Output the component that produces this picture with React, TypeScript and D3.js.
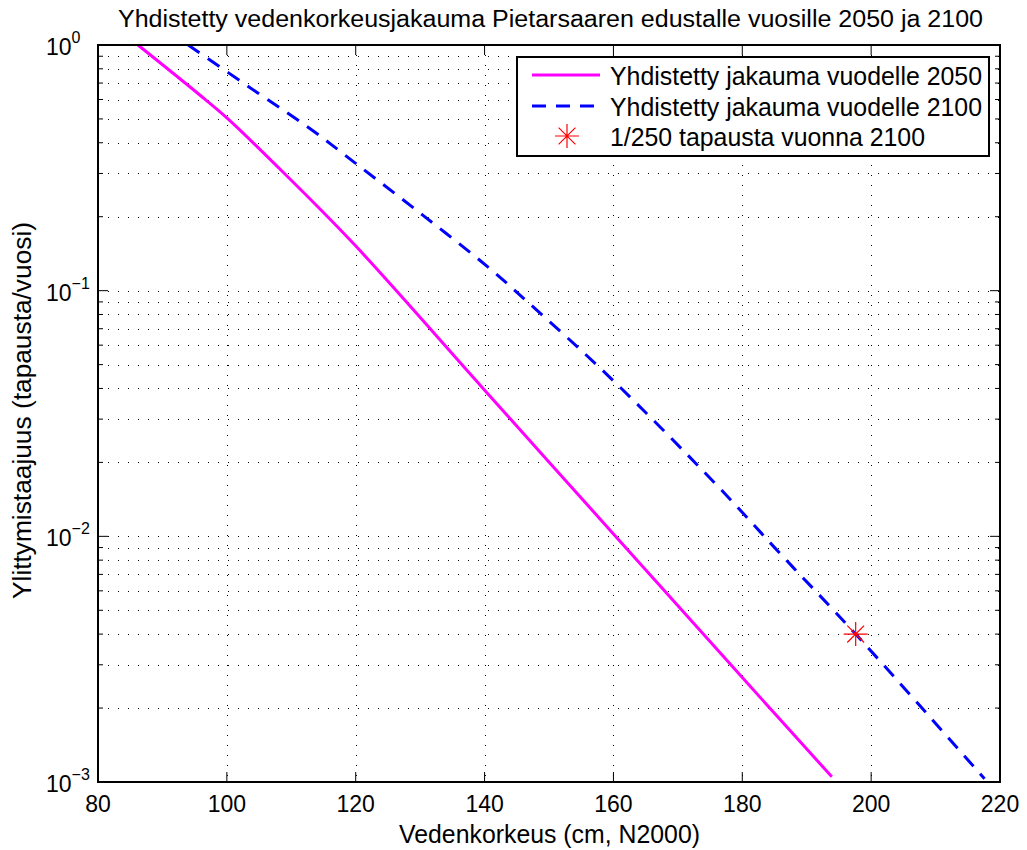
import React from "react";
import * as d3 from "d3";

const TITLE = "Yhdistetty vedenkorkeusjakauma Pietarsaaren edustalle vuosille 2050 ja 2100";
const X_LABEL = "Vedenkorkeus (cm, N2000)";
const Y_LABEL = "Ylittymistaajuus (tapausta/vuosi)";

const x2050 = [86.2, 95.8, 100.0, 108.7, 119.9, 139.7, 159.9, 179.9, 193.9];
const y2050 = [1.0, 0.626, 0.505, 0.304, 0.153, 0.0402, 0.0103, 0.00268, 0.00105];

const x2100 = [94.0, 104.8, 113.2, 120.3, 130.4, 140.5, 146.7, 159.4, 176.0, 185.8, 197.6, 217.6];
const y2100 = [1.0, 0.638, 0.451, 0.325, 0.203, 0.125, 0.0899, 0.0445, 0.0162, 0.00855, 0.004, 0.00103];

const eventX = [197.6];
const eventY = [0.004];

const xTicks = [80, 100, 120, 140, 160, 180, 200, 220];
const yDecades = [-3, -2, -1, 0];
const legendLabels = [
  "Yhdistetty jakauma vuodelle 2050",
  "Yhdistetty jakauma vuodelle 2100",
  "1/250 tapausta vuonna 2100",
];

const FONT = "'Liberation Sans', Arial, Helvetica, sans-serif";

export default function App() {
  const L = 98, R = 1000, T = 45, B = 782;
  const x = d3.scaleLinear().domain([80, 220]).range([L, R]);
  const y = d3.scaleLog().domain([1e-3, 1]).range([B, T]);

  const minors: number[] = [];
  for (let d = -3; d < 0; d++) {
    for (let k = 2; k <= 9; k++) minors.push(k * Math.pow(10, d));
  }

  const line = d3
    .line<[number, number]>()
    .x((d) => x(d[0]))
    .y((d) => y(d[1]))
    .curve(d3.curveCatmullRom.alpha(0.5));

  const p2050 = line(x2050.map((v, i) => [v, y2050[i]] as [number, number])) || "";
  const p2100 = line(x2100.map((v, i) => [v, y2100[i]] as [number, number])) || "";

  const star = (cx: number, cy: number, r: number) => {
    const parts: string[] = [];
    parts.push(`M${cx - r},${cy}L${cx + r},${cy}`);
    parts.push(`M${cx},${cy - r}L${cx},${cy + r}`);
    const q = r * 0.7;
    parts.push(`M${cx - q},${cy - q}L${cx + q},${cy + q}`);
    parts.push(`M${cx - q},${cy + q}L${cx + q},${cy - q}`);
    return parts.join("");
  };

  const lx = 517, ly = 57, lw = 472, lh = 99;
  const rows = [75, 106, 136];
  const legendWidths = [372, 372, 315];

  return (
    <svg
      width={1027}
      height={850}
      style={{ position: "absolute", left: 0, top: 0, background: "#fff" }}
      fontFamily={FONT}
    >
      <rect x={0} y={0} width={1027} height={850} fill="#fff" />
      {/* grid */}
      <g stroke="#000" strokeWidth={1} strokeDasharray="1,9">
        {xTicks.slice(1, -1).map((t) => (
          <line key={"gx" + t} x1={Math.round(x(t)) + 0.5} x2={Math.round(x(t)) + 0.5} y1={T} y2={B} />
        ))}
        {[...minors, 0.01, 0.1].map((t, i) => (
          <line key={"gy" + i} x1={L} x2={R} y1={Math.round(y(t)) + 0.5} y2={Math.round(y(t)) + 0.5} />
        ))}
      </g>
      {/* ticks */}
      <g stroke="#000" strokeWidth={1}>
        {xTicks.map((t) => (
          <g key={"tx" + t}>
            <line x1={x(t)} x2={x(t)} y1={B} y2={B - 10} />
            <line x1={x(t)} x2={x(t)} y1={T} y2={T + 10} />
          </g>
        ))}
        {yDecades.map((d) => (
          <g key={"ty" + d}>
            <line x1={L} x2={L + 10} y1={y(Math.pow(10, d))} y2={y(Math.pow(10, d))} />
            <line x1={R} x2={R - 10} y1={y(Math.pow(10, d))} y2={y(Math.pow(10, d))} />
          </g>
        ))}
        {minors.map((t, i) => (
          <g key={"tm" + i}>
            <line x1={L} x2={L + 5} y1={y(t)} y2={y(t)} />
            <line x1={R} x2={R - 5} y1={y(t)} y2={y(t)} />
          </g>
        ))}
      </g>
      {/* series */}
      <path d={p2050} fill="none" stroke="#ff00ff" strokeWidth={3} />
      <path d={p2100} fill="none" stroke="#0000ff" strokeWidth={3} strokeDasharray="14,10" />
      {eventX.map((v, i) => (
        <path key={"ev" + i} d={star(x(v), y(eventY[i]), 12)} stroke="#ff0000" strokeWidth={1.2} fill="none" />
      ))}
      {/* frame */}
      <rect x={L} y={T} width={R - L} height={B - T} fill="none" stroke="#000" strokeWidth={2} />
      {/* x tick labels */}
      {xTicks.map((t) => (
        <text key={"xl" + t} x={x(t)} y={812} fontSize={23} textAnchor="middle" fill="#000">
          {t}
        </text>
      ))}
      {/* y tick labels */}
      {yDecades.map((d) => (
        <text key={"yl" + d} x={46} y={y(Math.pow(10, d)) + 10} fontSize={23} fill="#000">
          10
          <tspan dy={-12} fontSize={16}>
            {d === 0 ? "0" : "\u2212" + Math.abs(d)}
          </tspan>
        </text>
      ))}
      {/* labels */}
      <text x={118} y={27} fontSize={23} textLength={865} lengthAdjust="spacingAndGlyphs" fill="#000">
        {TITLE}
      </text>
      <text x={399} y={843} fontSize={25} textLength={301} lengthAdjust="spacingAndGlyphs" fill="#000">
        {X_LABEL}
      </text>
      <text
        transform={`translate(31,599) rotate(-90)`}
        fontSize={25}
        textLength={377}
        lengthAdjust="spacingAndGlyphs"
        fill="#000"
      >
        {Y_LABEL}
      </text>
      {/* legend */}
      <rect x={lx} y={ly} width={lw} height={lh} fill="#fff" stroke="#000" strokeWidth={2} />
      <line x1={532} x2={600} y1={rows[0]} y2={rows[0]} stroke="#ff00ff" strokeWidth={3} />
      <line x1={532} x2={600} y1={rows[1]} y2={rows[1]} stroke="#0000ff" strokeWidth={3} strokeDasharray="14,10" />
      <path d={star(567, rows[2], 12)} stroke="#ff0000" strokeWidth={1.2} fill="none" />
      {legendLabels.map((s, i) => (
        <text
          key={"lg" + i}
          x={610}
          y={rows[i] + 10}
          fontSize={25}
          textLength={legendWidths[i]}
          lengthAdjust="spacingAndGlyphs"
          fill="#000"
        >
          {s}
        </text>
      ))}
    </svg>
  );
}
